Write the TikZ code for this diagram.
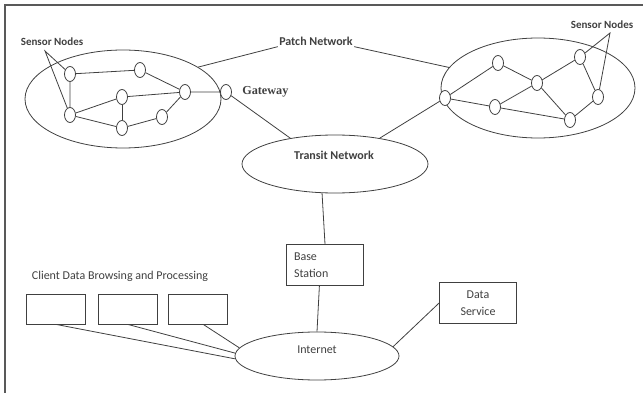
\documentclass[tikz,border=0pt]{standalone}
\usepackage{fontspec}
\setmainfont{Carlito}
\newfontfamily\gwfont{Liberation Serif}
\usetikzlibrary{positioning, shapes.geometric}

\begin{document}
\begin{tikzpicture}[x=1pt, y=-1pt, line width=0.8pt, color=black!75,
  every node/.style={font=\fontsize{12}{16.5}\selectfont, inner sep=1pt},
  sensor/.style={draw, fill=white, ellipse, minimum width=11pt, minimum height=15pt, inner sep=0pt},
  net/.style={draw, ellipse, inner sep=0pt},
  heading/.style={font=\bfseries\fontsize{12}{14}\selectfont},
  station/.style={draw, rectangle, minimum width=77pt, minimum height=41pt},
  client/.style={draw, rectangle, minimum width=59pt, minimum height=30pt}]
\useasboundingbox (0,0) rectangle (643,393);
\draw[line width=1.4pt, black!65] (5,393) -- (5,5) -- (643,5);

% left patch network
\node[net, minimum width=196pt, minimum height=98pt] (leftnet) at (123,99) {};
\node[sensor] (a1) at (70,74) {};
\node[sensor] (a2) at (140,70) {};
\node[sensor] (a3) at (185,92) {};
\node[sensor] (a4) at (122,97) {};
\node[sensor] (a5) at (70,115) {};
\node[sensor] (a6) at (122,128) {};
\node[sensor] (a7) at (162,117) {};
\node[sensor] (gw1) at (226,92) {};
\node[right=9pt of gw1, font=\gwfont\bfseries\fontsize{12.2}{14}\selectfont] (gwlabel) {Gateway};
\draw (a5) -- (a1) -- (a2) -- (a3) -- (gw1);
\draw (a5) -- (a4) -- (a3);
\draw (a5) -- (a6) -- (a7) -- (a3);
\draw (a4) -- (a6);

\node[heading, font=\bfseries\fontsize{11}{13}\selectfont] (sensL) at (52,42) {Sensor Nodes};
\coordinate (tipL) at (45,51);
\draw (a1) -- (tipL) -- (a5);

% right patch network
\node[net, minimum width=194pt, minimum height=100pt] (rightnet) at (538,88) {};
\node[sensor] (gw2) at (445,98) {};
\node[sensor] (b1) at (498,63) {};
\node[sensor] (b2) at (537,83) {};
\node[sensor] (b3) at (495,107) {};
\node[sensor] (b4) at (580,57) {};
\node[sensor] (b5) at (598,97) {};
\node[sensor] (b6) at (570,120) {};
\draw (gw2) -- (b1) -- (b2) -- (b4) -- (b5) -- (b6) -- (b3) -- (gw2);
\draw (b3) -- (b2) -- (b6);

\node[heading, font=\bfseries\fontsize{11}{13}\selectfont] (sensR) at (602,25) {Sensor Nodes};
\coordinate (tipR) at (610,33);
\draw (b4) -- (tipR) -- (b5);

\node[heading] (patch) at (316,41) {Patch Network};
\draw (leftnet.23) -- (patch.south west);
\draw (patch.south east) -- (rightnet.167);

% transit and base station
\node[net, minimum width=186pt, minimum height=58pt] (transit) at (335,164) {};
\node[heading] (transitlbl) at (334,155) {Transit Network};
\draw (gw1) -- (transit.150);
\draw (gw2) -- (transit.30);

\node[station, text width=62pt, align=left] (base) at (325,265) {Base\\Station};
\draw (transit.246) -- (base.north);

\node[net, minimum width=164pt, minimum height=48pt] (internet) at (317,356) {};
\node (internetlbl) at (317,350) {Internet};
\draw (base.255) -- (internet.north);

\node[station, align=center] (data) at (478,303) {Data\\Service};
\draw (internet.7) -- (data.west);

% clients
\node[client] (c1) at (56,309) {};
\node[client, right=12pt of c1] (c2) {};
\node[client, right=10pt of c2] (c3) {};
\node (clientlbl) at (120,276) {Client Data Browsing and Processing};
\draw (c1.south) -- (internet.182);
\draw (c2.south) -- (internet.178);
\draw (c3.-70) -- (internet.174);
\end{tikzpicture}
\end{document}
